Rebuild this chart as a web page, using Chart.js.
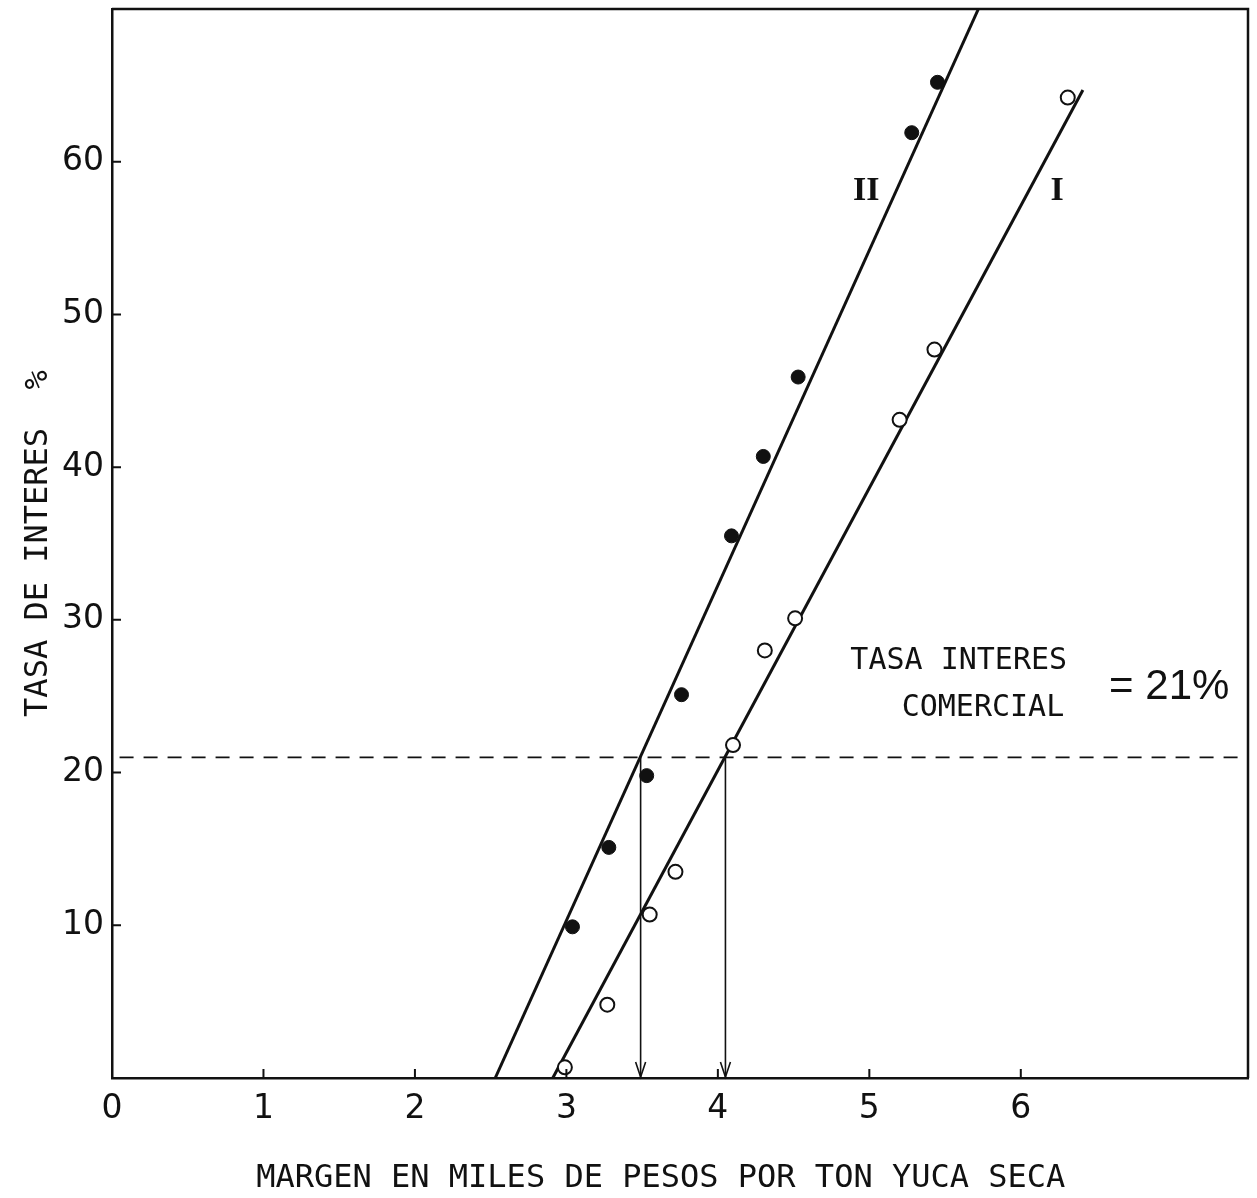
<!DOCTYPE html>
<html>
<head>
<meta charset="utf-8">
<script src="https://cdn.jsdelivr.net/npm/chart.js@4.4.1/dist/chart.umd.min.js"></script>
<style>
  body { margin: 0; background: #fff; }
  canvas { display: block; }
</style>
</head>
<body>
<canvas id="chart" width="1257" height="1198"></canvas>
<script>
// --- data ---
const xTicks = [0, 1, 2, 3, 4, 5, 6];
const yTicks = [10, 20, 30, 40, 50, 60];

// curve II (filled dots)
const dotsII_x = [3.04, 3.28, 3.53, 3.76, 4.09, 4.30, 4.53, 5.28, 5.45];
const dotsII_y = [9.9, 15.1, 19.8, 25.1, 35.5, 40.7, 45.9, 61.9, 65.2];
// curve I (open dots)
const dotsI_x = [2.99, 3.27, 3.55, 3.72, 4.10, 4.31, 4.51, 5.20, 5.43, 6.31];
const dotsI_y = [0.7, 4.8, 10.7, 13.5, 21.8, 28.0, 30.1, 43.1, 47.7, 64.2];

// fitted lines (end points)
const lineII_x = [2.53, 5.72];
const lineII_y = [0, 70];
const lineI_x = [2.91, 6.41];
const lineI_y = [0, 64.7];

// commercial rate
const rate = 21;
const rateLine_x = [0.05, 7.5];
const arrows_x = [3.49, 4.05];

const pts = (xs, ys) => xs.map((x, i) => ({ x: x, y: ys[i] }));

const INK = '#111';
const MONO = "'DejaVu Sans Mono', monospace";

// frame, inward ticks, arrowheads and text notes
const decor = {
    id: 'decor',
    afterDatasetsDraw(chart) {
        const c = chart.ctx;
        const a = chart.chartArea;
        const sx = chart.scales.x, sy = chart.scales.y;
        c.save();
        c.strokeStyle = INK;
        c.lineWidth = 2.5;
        c.beginPath();
        c.moveTo(a.left, a.top);
        c.lineTo(a.right, a.top);
        c.lineTo(a.right, a.bottom);
        c.stroke();

        // inward tick marks
        c.lineWidth = 2;
        c.beginPath();
        xTicks.slice(1).forEach(v => {
            const p = sx.getPixelForValue(v);
            c.moveTo(p, a.bottom); c.lineTo(p, a.bottom - 9);
        });
        yTicks.forEach(v => {
            const p = sy.getPixelForValue(v);
            c.moveTo(a.left, p); c.lineTo(a.left + 9, p);
        });
        c.stroke();

        // arrowheads
        c.lineWidth = 1.6;
        arrows_x.forEach(v => {
            const p = sx.getPixelForValue(v);
            const b = sy.getPixelForValue(0);
            c.beginPath();
            c.moveTo(p - 5, b - 16); c.lineTo(p, b - 1); c.lineTo(p + 5, b - 16);
            c.stroke();
        });

        // notes
        c.fillStyle = INK;
        c.textAlign = 'center';
        c.textBaseline = 'middle';
        c.font = "bold 34px 'Liberation Serif', serif";
        c.fillText('II', sx.getPixelForValue(4.98), sy.getPixelForValue(58.1));
        c.fillText('I', sx.getPixelForValue(6.24), sy.getPixelForValue(58.1));
        c.font = '30px ' + MONO;
        c.fillText('TASA INTERES', sx.getPixelForValue(5.59), sy.getPixelForValue(27.3));
        c.fillText('COMERCIAL', sx.getPixelForValue(5.75), sy.getPixelForValue(24.2));
        c.font = "42px 'Liberation Sans Narrow', 'Liberation Sans', sans-serif";
        c.fillText('= 21%', sx.getPixelForValue(6.98), sy.getPixelForValue(25.6));
        c.restore();
    }
};

new Chart(document.getElementById('chart'), {
    type: 'scatter',
    data: {
        datasets: [
            {
                label: 'II',
                data: pts(dotsII_x, dotsII_y),
                pointRadius: 7,
                backgroundColor: INK,
                borderColor: INK,
                borderWidth: 1
            },
            {
                label: 'I',
                data: pts(dotsI_x, dotsI_y),
                pointRadius: 7,
                backgroundColor: '#fff',
                borderColor: INK,
                borderWidth: 2
            },
            {
                label: 'fit II',
                data: pts(lineII_x, lineII_y),
                showLine: true,
                pointRadius: 0,
                borderColor: INK,
                borderWidth: 3
            },
            {
                label: 'fit I',
                data: pts(lineI_x, lineI_y),
                showLine: true,
                pointRadius: 0,
                borderColor: INK,
                borderWidth: 3
            },
            {
                label: 'tasa comercial',
                data: pts(rateLine_x, [rate, rate]),
                showLine: true,
                pointRadius: 0,
                borderColor: INK,
                borderWidth: 1.8,
                borderDash: [14, 10]
            },
            ...arrows_x.map(v => ({
                label: 'arrow',
                data: pts([v, v], [rate, 0]),
                showLine: true,
                pointRadius: 0,
                borderColor: INK,
                borderWidth: 1.6
            }))
        ]
    },
    options: {
        responsive: false,
        animation: false,
        layout: { padding: { top: 8, right: 7, left: 0, bottom: 0 } },
        plugins: {
            legend: { display: false },
            tooltip: { enabled: false }
        },
        scales: {
            x: {
                type: 'linear',
                min: 0,
                max: 7.5,
                afterFit(scale) {
                    scale.height = 120;
                    scale.paddingLeft = 0;
                    scale.paddingRight = 0;
                },
                afterBuildTicks(scale) { scale.ticks = xTicks.map(v => ({ value: v })); },
                grid: { display: false, drawTicks: false },
                border: { display: true, color: INK, width: 2.5 },
                ticks: {
                    padding: 12,
                    color: INK,
                    font: { family: "'DejaVu Sans', sans-serif", size: 33 }
                },
                title: {
                    display: true,
                    text: 'MARGEN EN MILES DE PESOS POR TON YUCA SECA  ',
                    color: INK,
                    font: { family: MONO, size: 32 },
                    padding: { top: 0, bottom: 0 }
                }
            },
            y: {
                type: 'linear',
                min: 0,
                max: 70,
                afterFit(scale) {
                    scale.width = 112;
                    scale.paddingTop = 0;
                    scale.paddingBottom = 0;
                },
                afterBuildTicks(scale) { scale.ticks = yTicks.map(v => ({ value: v })); },
                grid: { display: false, drawTicks: false },
                border: { display: true, color: INK, width: 2.5 },
                ticks: {
                    padding: 8,
                    color: INK,
                    font: { family: "'DejaVu Sans', sans-serif", size: 33 }
                },
                title: {
                    display: true,
                    text: 'TASA DE INTERES  %',
                    color: INK,
                    font: { family: MONO, size: 32 },
                    padding: { top: 19, bottom: 0 }
                }
            }
        }
    },
    plugins: [decor]
});
</script>
</body>
</html>
